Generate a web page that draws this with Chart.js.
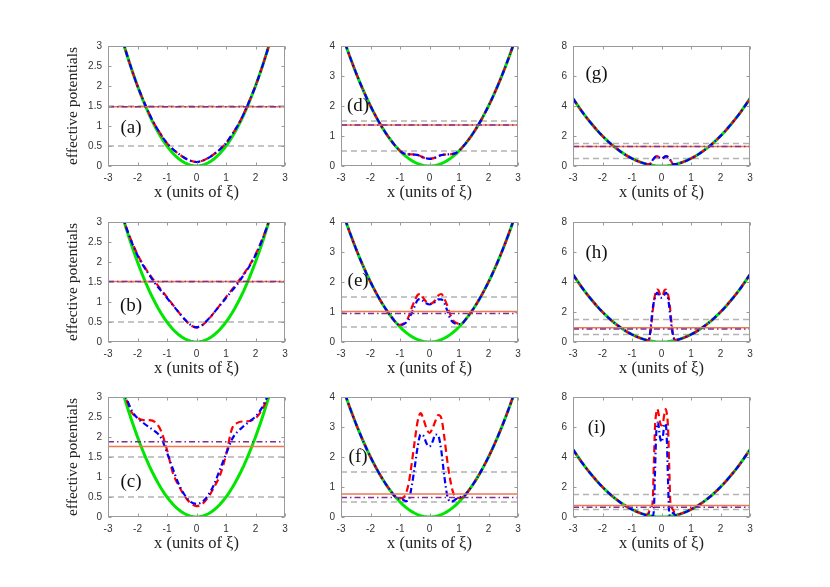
<!DOCTYPE html>
<html>
<head>
<meta charset="utf-8">
<script src="https://cdn.jsdelivr.net/npm/chart.js@4.4.0/dist/chart.umd.min.js"></script>
<style>
body { margin: 0; background: #fff; }
#wrap { position: relative; width: 830px; height: 587px; }
#wrap canvas { position: absolute; }
</style>
</head>
<body>
<div id="wrap"></div>
<script>
// trap potential (green), same in every panel, x step 0.1
var xGrid = [-3, -2.9, -2.8, -2.7, -2.6, -2.5, -2.4, -2.3, -2.2, -2.1, -2, -1.9, -1.8, -1.7, -1.6, -1.5, -1.4, -1.3, -1.2, -1.1,
  -1, -0.9, -0.8, -0.7, -0.6, -0.5, -0.4, -0.3, -0.2, -0.1, 0, 0.1, 0.2, 0.3, 0.4, 0.5, 0.6, 0.7, 0.8, 0.9,
  1, 1.1, 1.2, 1.3, 1.4, 1.5, 1.6, 1.7, 1.8, 1.9, 2, 2.1, 2.2, 2.3, 2.4, 2.5, 2.6, 2.7, 2.8, 2.9, 3];
var greenV = [4.5, 4.205, 3.92, 3.645, 3.38, 3.125, 2.88, 2.645, 2.42, 2.205, 2, 1.805, 1.62, 1.445, 1.28, 1.125, 0.98, 0.845, 0.72, 0.605,
  0.5, 0.405, 0.32, 0.245, 0.18, 0.125, 0.08, 0.045, 0.02, 0.005, 0, 0.005, 0.02, 0.045, 0.08, 0.125, 0.18, 0.245, 0.32, 0.405,
  0.5, 0.605, 0.72, 0.845, 0.98, 1.125, 1.28, 1.445, 1.62, 1.805, 2, 2.205, 2.42, 2.645, 2.88, 3.125, 3.38, 3.645, 3.92, 4.205, 4.5];

// effective potentials near the centre (outside these ranges they sit on the green curve)
var cx_a = [-2, -1.5, -1.2, -1, -0.8, -0.6, -0.4, -0.2, 0, 0.2, 0.4, 0.6, 0.8, 1, 1.2, 1.5, 2];
var red_a = [2.0, 1.15, 0.78, 0.57, 0.42, 0.3, 0.2, 0.13, 0.1, 0.13, 0.2, 0.3, 0.42, 0.57, 0.78, 1.15, 2.0];
var blue_a = [2.0, 1.15, 0.78, 0.57, 0.42, 0.3, 0.2, 0.13, 0.1, 0.13, 0.2, 0.3, 0.42, 0.57, 0.78, 1.15, 2.0];

var cx_b = [-2.4, -2.2, -2, -1.8, -1.6, -1.4, -1.2, -1, -0.8, -0.6, -0.4, -0.2, 0, 0.2, 0.4, 0.6, 0.8, 1, 1.2, 1.4, 1.6, 1.8, 2, 2.2, 2.4];
var red_b = [2.9, 2.52, 2.19, 1.92, 1.7, 1.5, 1.31, 1.12, 0.93, 0.74, 0.56, 0.42, 0.36, 0.42, 0.56, 0.74, 0.93, 1.12, 1.31, 1.5, 1.7, 1.92, 2.19, 2.52, 2.9];
var blue_b = [2.9, 2.5, 2.17, 1.9, 1.68, 1.46, 1.28, 1.1, 0.92, 0.74, 0.57, 0.43, 0.37, 0.43, 0.57, 0.74, 0.92, 1.1, 1.28, 1.46, 1.68, 1.9, 2.17, 2.5, 2.9];

var cx_c = [-2.4, -2.2, -2, -1.8, -1.6, -1.4, -1.2, -1, -0.8, -0.6, -0.4, -0.2, 0, 0.2, 0.4, 0.6, 0.8, 1, 1.2, 1.4, 1.6, 1.8, 2, 2.2, 2.4];
var red_c = [2.98, 2.62, 2.48, 2.42, 2.42, 2.37, 2.15, 1.68, 1.1, 0.78, 0.52, 0.35, 0.27, 0.33, 0.5, 0.75, 1.05, 1.55, 2.2, 2.36, 2.39, 2.4, 2.47, 2.65, 2.96];
var blue_c = [3.0, 2.67, 2.47, 2.35, 2.24, 2.14, 1.98, 1.61, 1.2, 0.82, 0.55, 0.38, 0.33, 0.38, 0.55, 0.82, 1.2, 1.57, 1.94, 2.14, 2.27, 2.39, 2.51, 2.71, 3.0];

var cx_d = [-1.05, -0.9, -0.7, -0.5, -0.35, -0.2, 0, 0.2, 0.35, 0.5, 0.7, 0.9, 1.05];
var red_d = [0.55, 0.43, 0.39, 0.38, 0.35, 0.28, 0.24, 0.28, 0.35, 0.38, 0.39, 0.43, 0.55];
var blue_d = [0.55, 0.43, 0.39, 0.38, 0.35, 0.28, 0.24, 0.28, 0.35, 0.38, 0.39, 0.43, 0.55];

var cx_e = [-1.1, -1, -0.9, -0.8, -0.7, -0.6, -0.5, -0.4, -0.3, -0.2, -0.1, 0, 0.1, 0.2, 0.3, 0.4, 0.5, 0.6, 0.7, 0.8, 0.9, 1, 1.1];
var red_e = [0.605, 0.57, 0.6, 0.68, 0.86, 1.15, 1.38, 1.57, 1.6, 1.45, 1.33, 1.27, 1.3, 1.4, 1.55, 1.6, 1.45, 1.22, 0.92, 0.72, 0.64, 0.61, 0.62];
var blue_e = [0.605, 0.56, 0.58, 0.64, 0.76, 0.98, 1.2, 1.4, 1.43, 1.35, 1.28, 1.25, 1.28, 1.34, 1.42, 1.42, 1.3, 1.05, 0.78, 0.65, 0.61, 0.6, 0.61];

var cx_f = [-1.2, -1.1, -1, -0.9, -0.8, -0.7, -0.6, -0.5, -0.4, -0.3, -0.2, -0.1, 0, 0.1, 0.2, 0.3, 0.4, 0.5, 0.6, 0.7, 0.8, 0.9, 1, 1.1, 1.2];
var red_f = [0.72, 0.64, 0.62, 0.64, 0.78, 1.15, 1.8, 2.54, 3.2, 3.46, 3.25, 2.95, 2.8, 2.95, 3.2, 3.4, 3.3, 2.68, 1.89, 1.25, 0.82, 0.66, 0.63, 0.65, 0.72];
var blue_f = [0.72, 0.64, 0.6, 0.58, 0.53, 0.58, 1.05, 1.67, 2.35, 2.75, 2.7, 2.45, 2.35, 2.5, 2.75, 2.7, 2.21, 1.38, 0.72, 0.52, 0.53, 0.6, 0.65, 0.68, 0.72];

var cx_g = [-0.5, -0.4, -0.3, -0.2, -0.15, -0.1, -0.05, 0, 0.05, 0.1, 0.15, 0.2, 0.3, 0.4, 0.5];
var red_g = [0.125, 0.12, 0.4, 0.62, 0.66, 0.6, 0.53, 0.5, 0.53, 0.6, 0.66, 0.62, 0.4, 0.12, 0.125];
var blue_g = [0.125, 0.12, 0.4, 0.62, 0.66, 0.6, 0.53, 0.5, 0.53, 0.6, 0.66, 0.62, 0.4, 0.12, 0.125];

var cx_h = [-0.55, -0.45, -0.4, -0.35, -0.3, -0.25, -0.2, -0.15, -0.1, -0.05, 0, 0.05, 0.1, 0.15, 0.2, 0.25, 0.3, 0.35, 0.4, 0.45, 0.55];
var red_h = [0.15, 0.12, 0.3, 1.0, 2.0, 2.8, 3.3, 3.5, 3.45, 3.15, 3.05, 3.15, 3.45, 3.5, 3.3, 2.9, 2.1, 1.1, 0.4, 0.15, 0.15];
var blue_h = [0.15, 0.12, 0.4, 1.3, 2.2, 2.75, 3.1, 3.3, 3.15, 2.98, 2.95, 3.0, 3.15, 3.3, 3.1, 2.55, 1.7, 0.9, 0.37, 0.16, 0.15];

var cx_i = [-0.6, -0.5, -0.45, -0.4, -0.35, -0.3, -0.26, -0.22, -0.18, -0.14, -0.1, -0.05, 0, 0.05, 0.1, 0.14, 0.18, 0.22, 0.26, 0.3, 0.35, 0.4, 0.45, 0.5, 0.6];
var red_i = [0.18, 0.15, 0.25, 0.45, 0.6, 1.0, 3.5, 6.0, 6.9, 7.2, 6.9, 6.3, 6.1, 6.3, 6.9, 7.2, 6.9, 6.0, 3.5, 1.0, 0.6, 0.45, 0.25, 0.15, 0.18];
var blue_i = [0.18, 0.12, 0.15, 0.28, 0.2, 0.08, 0.4, 3.0, 5.5, 6.3, 6.1, 5.3, 5.0, 5.4, 6.2, 6.2, 5.2, 2.5, 0.3, 0.08, 0.2, 0.28, 0.15, 0.12, 0.18];

// horizontal levels per panel (a..i)
var orangeLevel = [1.48, 1.51, 1.76, 1.37, 1.02, 0.77, 1.3, 0.95, 0.77];
var purpleLevel = [1.48, 1.51, 1.88, 1.37, 0.95, 0.65, 1.3, 0.86, 0.65];
var grayLevels = [0.5, 1.5];

var panelText = ['(a)', '(b)', '(c)', '(d)', '(e)', '(f)', '(g)', '(h)', '(i)'];
var labelX = [-2.22, -2.22, -2.22, -2.42, -2.42, -2.42, -2.2, -2.2, -2.2];
var labelY = [0.96, 0.9, 0.88, 2.0, 2.03, 2.0, 6.1, 5.95, 5.9];
var yMax = [3, 3, 3, 4, 4, 4, 8, 8, 8];
var yStep = [0.5, 0.5, 0.5, 1, 1, 1, 2, 2, 2];

var coreX = [cx_a, cx_b, cx_c, cx_d, cx_e, cx_f, cx_g, cx_h, cx_i];
var redV = [red_a, red_b, red_c, red_d, red_e, red_f, red_g, red_h, red_i];
var blueV = [blue_a, blue_b, blue_c, blue_d, blue_e, blue_f, blue_g, blue_h, blue_i];

var colLeft = [108, 341, 573];
var rowTop = [44, 220, 395];
var plotW = 177, plotH = 122;
var padL = 60, padT = 10, padR = 10, padB = 42;

function greenPts() {
  return xGrid.map(function (x, i) { return { x: x, y: greenV[i] }; });
}

// centre values, with the green curve outside the centre range
function fullCurve(cx, cy) {
  var pts = [];
  var lo = cx[0] - 1e-6, hi = cx[cx.length - 1] + 1e-6;
  for (var i = 0; i < xGrid.length; i++) if (xGrid[i] < lo) pts.push({ x: xGrid[i], y: greenV[i] });
  for (var j = 0; j < cx.length; j++) pts.push({ x: cx[j], y: cy[j] });
  for (var k = 0; k < xGrid.length; k++) if (xGrid[k] > hi) pts.push({ x: xGrid[k], y: greenV[k] });
  return pts;
}

function hline(v) {
  return [{ x: -3, y: v }, { x: 3, y: v }];
}

var tickFont = { family: 'Liberation Sans', size: 10 };
var frameColor = '#9a9a9a';
function plainTick(v) { return String(v); }

function makePanel(p) {
  var col = Math.floor(p / 3), row = p % 3;
  var cv = document.createElement('canvas');
  cv.width = plotW + padL + padR;
  cv.height = plotH + padT + padB;
  cv.style.left = (colLeft[col] - padL) + 'px';
  cv.style.top = (rowTop[row] - padT) + 'px';
  document.getElementById('wrap').appendChild(cv);

  var boxPlugin = {
    id: 'box' + p,
    afterDatasetsDraw: function (chart) {
      var a = chart.chartArea, c = chart.ctx;
      var l = Math.round(a.left) + 0.5, r = Math.round(a.right) - 0.5;
      var t = Math.round(a.top) + 0.5, b = Math.round(a.bottom) - 0.5;
      c.save();
      c.strokeStyle = frameColor;
      c.lineWidth = 1;
      c.strokeRect(l, t, r - l, b - t);
      c.beginPath();
      chart.scales.x.ticks.forEach(function (tk) {
        var px = Math.round(chart.scales.x.getPixelForValue(tk.value)) + 0.5;
        c.moveTo(px, b); c.lineTo(px, b - 3);
        c.moveTo(px, t); c.lineTo(px, t + 3);
      });
      chart.scales.y.ticks.forEach(function (tk) {
        var py = Math.round(chart.scales.y.getPixelForValue(tk.value)) + 0.5;
        c.moveTo(l, py); c.lineTo(l + 3, py);
        c.moveTo(r, py); c.lineTo(r - 3, py);
      });
      c.stroke();
      // panel letter
      c.fillStyle = '#111';
      c.font = '19px "Liberation Serif"';
      c.textAlign = 'center';
      c.textBaseline = 'middle';
      c.fillText(panelText[p], chart.scales.x.getPixelForValue(labelX[p]), chart.scales.y.getPixelForValue(labelY[p]));
      c.restore();
    }
  };

  var sets = [];
  grayLevels.forEach(function (g) {
    sets.push({ data: hline(g), borderColor: '#b3b3b3', borderWidth: 1.5, borderDash: [6, 4], order: 8 });
  });
  sets.push({ data: greenPts(), borderColor: 'rgb(0,230,0)', borderWidth: 3, order: 7 });
  sets.push({ data: fullCurve(coreX[p], redV[p]), borderColor: 'rgb(255,0,0)', borderWidth: 2.2, borderDash: [7, 4], cubicInterpolationMode: 'monotone', order: 6 });
  sets.push({ data: fullCurve(coreX[p], blueV[p]), borderColor: 'rgb(0,0,255)', borderWidth: 2.2, borderDash: [6, 3, 1.5, 3], cubicInterpolationMode: 'monotone', order: 5 });
  sets.push({ data: hline(orangeLevel[p]), borderColor: 'rgb(240,120,80)', borderWidth: 1.5, order: 4 });
  sets.push({ data: hline(purpleLevel[p]), borderColor: 'rgb(126,47,142)', borderWidth: 1.5, borderDash: [6, 3, 1.5, 3], order: 3 });

  new Chart(cv, {
    type: 'line',
    data: { datasets: sets },
    options: {
      responsive: false,
      animation: false,
      devicePixelRatio: 1,
      layout: { padding: { top: padT, right: padR, left: 0, bottom: 0 } },
      elements: { point: { radius: 0 }, line: { tension: 0 } },
      plugins: { legend: { display: false }, tooltip: { enabled: false } },
      scales: {
        x: {
          type: 'linear', min: -3, max: 3,
          grid: { display: false, drawTicks: false }, border: { display: false },
          ticks: { stepSize: 1, font: tickFont, color: '#333', padding: 6, maxRotation: 0, autoSkip: false, callback: plainTick },
          title: { display: true, text: 'x (units of ξ)', font: { family: 'Liberation Serif', size: 16.5 }, color: '#222', padding: { top: 0, bottom: 5 } },
          afterFit: function (s) { s.height = padB; }
        },
        y: {
          type: 'linear', min: 0, max: yMax[p],
          grid: { display: false, drawTicks: false }, border: { display: false },
          ticks: { stepSize: yStep[p], font: tickFont, color: '#333', padding: 6, callback: plainTick },
          title: { display: col === 0, text: 'effective potentials', font: { family: 'Liberation Serif', size: 15.5 }, color: '#222', padding: { top: 16, bottom: 0 } },
          afterFit: function (s) { s.width = padL; }
        }
      }
    },
    plugins: [boxPlugin]
  });
}

for (var p = 0; p < 9; p++) makePanel(p);
</script>
</body>
</html>
